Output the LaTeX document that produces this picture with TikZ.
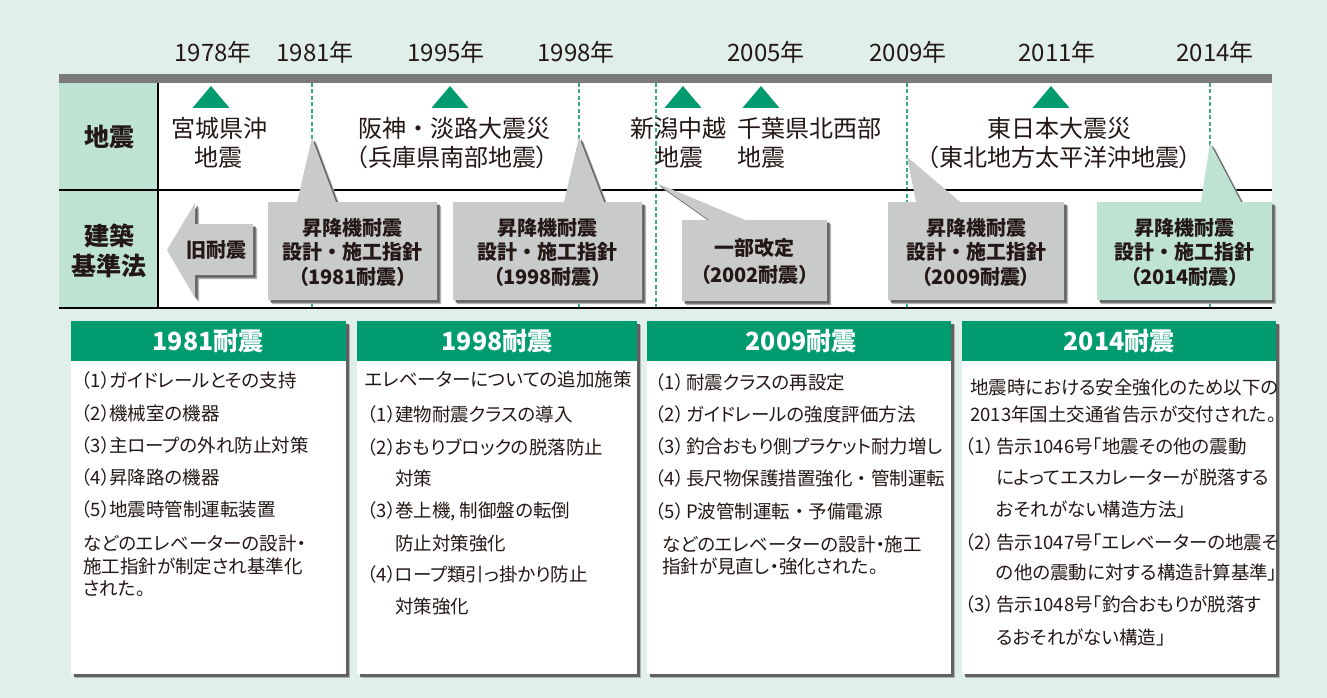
\documentclass[tikz,border=0pt]{standalone}
\usepackage{fontspec}
\setmainfont{Noto Sans CJK JP}
\newfontfamily\jpp{Noto Sans CJK JP}[RawFeature=+palt]
\usetikzlibrary{shadows}
\definecolor{bgc}{HTML}{E0EFE9}
\definecolor{hdr}{HTML}{BFE3D3}
\definecolor{grn}{HTML}{009B6E}
\definecolor{barc}{HTML}{7B7B7B}
\definecolor{cgray}{HTML}{C9CACA}
\definecolor{cgreen}{HTML}{BFE3D3}
\definecolor{dashc}{HTML}{3DAA85}
\definecolor{ink}{HTML}{231815}
\newcommand\fsz[1]{\fontsize{#1}{#1}\selectfont}
\newcommand\fdot{{\rmfamily ・}}
\begin{document}
\begin{tikzpicture}[x=1pt,y=-1pt,
  every node/.style={inner sep=0pt,text=ink},
  t24/.style={font=\fsz{24},text height=18.2pt,text depth=0pt},
  t24p/.style={font=\jpp\fsz{24},text height=18.2pt,text depth=0pt},
  t24w/.style={t24,anchor=west},
  c20/.style={font=\bfseries\fsz{20},text height=15.2pt,text depth=0pt},
  c20p/.style={font=\jpp\bfseries\fsz{20},text height=15.2pt,text depth=0pt},
  h25/.style={font=\bfseries\fsz{25},text height=19pt,text depth=0pt},
  hw25/.style={font=\jpp\bfseries\fsz{25},text height=19pt,text depth=0pt,text=white},
  bd/.style={font=\jpp\fsz{18.5},anchor=west,text height=14.1pt,text depth=0pt},
  shd/.style={drop shadow={shadow xshift=4pt,shadow yshift=-4pt,fill=black!30,opacity=1},
              drop shadow={shadow xshift=2.5pt,shadow yshift=-2.5pt,fill=black!62,opacity=1}},
  dln/.style={draw=dashc,line width=1.3pt,dash pattern=on 4pt off 2.5pt},
  bln/.style={draw=black,line width=2pt},
  tri/.style={fill=grn}
]
% background
\fill[bgc] (0,0) rectangle (1327,698);
% top bar and table
\fill[barc] (59,74) rectangle (1272,83);
\fill[hdr] (59,83) rectangle (158,308);
\fill[white] (158,83) rectangle (1272,308);
% dashed year lines
\foreach \xx in {312,579,656,907,1210} \draw[dln] (\xx,83) -- (\xx,308);
% table lines
\draw[bln] (59,190) -- (1272,190);
\draw[bln] (59,308) -- (1272,308);
\draw[bln] (158,83) -- (158,308);
% years
\node[t24] (y1978) at (213,52) {1978年};
\node[t24] (y1981) at (315,52) {1981年};
\node[t24] (y1995) at (446,52) {1995年};
\node[t24] (y1998) at (576,52) {1998年};
\node[t24] (y2005) at (766,52) {2005年};
\node[t24] (y2009) at (908,52) {2009年};
\node[t24] (y2011) at (1057,52) {2011年};
\node[t24] (y2014) at (1215,52) {2014年};
% triangles
\foreach \xx in {211,450,683,761,1051} \fill[tri] (\xx-18.5,108) -- (\xx,86) -- (\xx+18.5,108) -- cycle;
% row headers
\node[h25] (hq) at (109,137) {地震};
\node[h25] (hk1) at (109,236) {建築};
\node[h25] (hk2) at (109,266) {基準法};
% earthquakes
\node[t24] (q1a) at (219,128) {宮城県沖};
\node[t24] (q1b) at (218,157) {地震};
\node[t24] (q2a) at (454,128) {阪神・淡路大震災};
\node[t24p] (q2b) at (452,157) {（兵庫県南部地震）};
\node[t24] (q3a) at (678,128) {新潟中越};
\node[t24] (q3b) at (679,157) {地震};
\node[t24w] (q4a) at (737,128) {千葉県北西部};
\node[t24w] (q4b) at (737,157) {地震};
\node[t24] (q5a) at (1059,128) {東日本大震災};
\node[t24p] (q5b) at (1059,157) {（東北地方太平洋沖地震）};
% old-standard arrow
\path[shd,fill=cgray] (253,224) -- (195,224) -- (195,203) -- (167,250) -- (195,298) -- (195,275) -- (253,275) -- cycle;
\node[c20] (old) at (216,250) {旧耐震};
% callouts
\path[shd,fill=cgray] (268,202) -- (297,202) -- (312,138) -- (336,202) -- (437,202) -- (437,300) -- (268,300) -- cycle;
\node[c20] (c1a) at (352.5,228) {昇降機耐震};
\node[c20] (c1b) at (352.5,252) {設計・施工指針};
\node[c20p] (c1c) at (352.5,277) {（1981耐震）};
\path[shd,fill=cgray] (453,202) -- (564,202) -- (579,137) -- (604,202) -- (642,202) -- (642,300) -- (453,300) -- cycle;
\node[c20] (c2a) at (547.5,228) {昇降機耐震};
\node[c20] (c2b) at (547.5,252) {設計・施工指針};
\node[c20p] (c2c) at (547.5,277) {（1998耐震）};
\path[shd,fill=cgray] (682,220) -- (709,220) -- (656.5,183) -- (745,220) -- (827,220) -- (827,301) -- (682,301) -- cycle;
\node[c20] (c3a) at (754.5,248) {一部改定};
\node[c20p] (c3b) at (754.5,275) {（2002耐震）};
\path[shd,fill=cgray] (888,202) -- (916,202) -- (907,157) -- (960,202) -- (1064,202) -- (1064,300) -- (888,300) -- cycle;
\node[c20] (c4a) at (976,228) {昇降機耐震};
\node[c20] (c4b) at (976,252) {設計・施工指針};
\node[c20p] (c4c) at (976,277) {（2009耐震）};
\path[shd,fill=cgreen] (1097,202) -- (1201,202) -- (1210,143) -- (1241,202) -- (1272,202) -- (1272,300) -- (1097,300) -- cycle;
\node[c20] (c5a) at (1184.5,228) {昇降機耐震};
\node[c20] (c5b) at (1184.5,252) {設計・施工指針};
\node[c20p] (c5c) at (1184.5,277) {（2014耐震）};
% bottom boxes
\path[shd,fill=white] (71,321) rectangle (346,674);
\fill[grn] (71,321) rectangle (346,361);
\path[shd,fill=white] (357,321) rectangle (637,674);
\fill[grn] (357,321) rectangle (637,361);
\path[shd,fill=white] (647,321) rectangle (951,674);
\fill[grn] (647,321) rectangle (951,361);
\path[shd,fill=white] (962,321) rectangle (1276,674);
\fill[grn] (962,321) rectangle (1276,361);
\node[hw25] (h1) at (208,341) {1981耐震};
\node[hw25] (h2) at (497,341) {1998耐震};
\node[hw25] (h3) at (801,341) {2009耐震};
\node[hw25] (h4) at (1119,341) {2014耐震};
% box 1
\node[bd] (a1p) at (81,380) {（1）};  \node[bd] (a1t) at (109,380) {ガイドレールとその支持};
\node[bd] (a2p) at (81,413) {（2）};  \node[bd] (a2t) at (109,413) {機械室の機器};
\node[bd] (a3p) at (81,445) {（3）};  \node[bd] (a3t) at (109,445) {主ロープの外れ防止対策};
\node[bd] (a4p) at (81,477) {（4）};  \node[bd] (a4t) at (109,477) {昇降路の機器};
\node[bd] (a5p) at (81,509) {（5）};  \node[bd] (a5t) at (109,509) {地震時管制運転装置};
\node[bd] (a6) at (83,543) {などのエレベーターの設計・};
\node[bd] (a7) at (83,566) {施工指針が制定され基準化};
\node[bd] (a8) at (83,588) {された。};
% box 2
\node[bd] (b0) at (365,379) {エレベーターについての追加施策};
\node[bd] (b1p) at (367,414) {（1）}; \node[bd] (b1t) at (395,414) {建物耐震クラスの導入};
\node[bd] (b2p) at (367,447) {（2）}; \node[bd] (b2t) at (395,447) {おもりブロックの脱落防止};
\node[bd] (b2u) at (395,478) {対策};
\node[bd] (b3p) at (367,510) {（3）}; \node[bd] (b3t) at (395,510) {巻上機, 制御盤の転倒};
\node[bd] (b3u) at (395,543) {防止対策強化};
\node[bd] (b4p) at (367,574) {（4）}; \node[bd] (b4t) at (395,574) {ロープ類引っ掛かり防止};
\node[bd] (b4u) at (395,606) {対策強化};
% box 3
\node[bd] (d1p) at (655,382) {（1）}; \node[bd] (d1t) at (686,382) {耐震クラスの再設定};
\node[bd] (d2p) at (655,414) {（2）}; \node[bd] (d2t) at (686,414) {ガイドレールの強度評価方法};
\node[bd] (d3p) at (655,446) {（3）}; \node[bd] (d3t) at (686,446) {釣合おもり側プラケット耐力増し};
\node[bd] (d4p) at (655,478) {（4）}; \node[bd] (d4t) at (686,478) {長尺物保護措置強化\fdot 管制運転};
\node[bd] (d5p) at (655,511) {（5）}; \node[bd] (d5t) at (686,511) {P波管制運転\fdot 予備電源};
\node[bd] (d6) at (662,544) {などのエレベーターの設計・施工};
\node[bd] (d7) at (662,566) {指針が見直し・強化された。};
% box 4
\node[bd] (e0) at (970,387) {地震時における安全強化のため以下の};
\node[bd] (e0b) at (970,414) {2013年国土交通省告示が交付された。};
\node[bd] (e1p) at (965,446) {（1）}; \node[bd] (e1t) at (996,446) {告示1046号「地震その他の震動};
\node[bd] (e1u) at (996,477) {によってエスカレーターが脱落する};
\node[bd] (e1v) at (996,509) {おそれがない構造方法」};
\node[bd] (e2p) at (965,542) {（2）}; \node[bd] (e2t) at (996,542) {告示1047号「エレベーターの地震そ};
\node[bd] (e2u) at (996,572) {の他の震動に対する構造計算基準」};
\node[bd] (e3p) at (965,604) {（3）}; \node[bd] (e3t) at (996,604) {告示1048号「釣合おもりが脱落す};
\node[bd] (e3u) at (996,637) {るおそれがない構造」};
\end{tikzpicture}
\end{document}
